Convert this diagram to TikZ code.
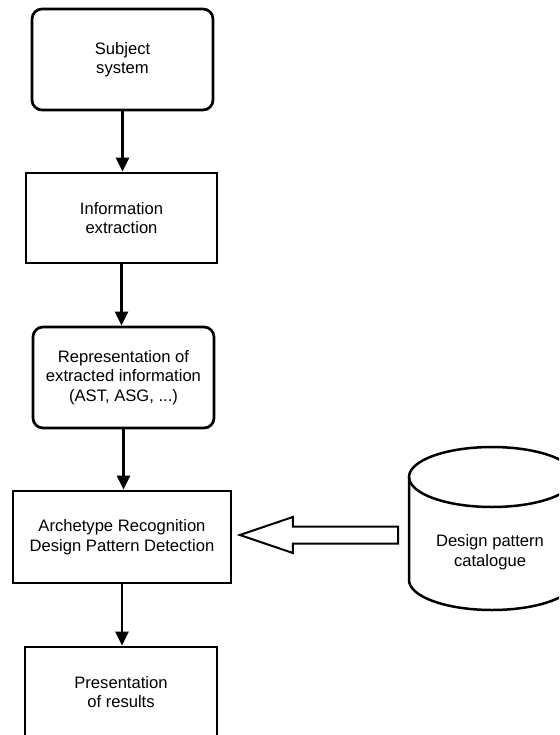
\documentclass[tikz,border=0pt]{standalone}
\usepackage{fontspec}
\setmainfont{Liberation Sans}
\usetikzlibrary{arrows.meta,calc}
\begin{document}
\begin{tikzpicture}[x=1pt,y=-1pt,
  label/.style={font=\fontsize{16.6}{19.5}\selectfont, align=center, inner sep=0pt},
  procbox/.style={label, draw, line width=2.7pt},
  roundbox/.style={procbox, rounded corners=10pt},
  flow/.style={line width=2.5pt, -{Triangle[length=14pt,width=13pt]}},
  hollow/.style={line width=2pt, line join=miter, fill=white}]
\useasboundingbox (0,0) rectangle (559,735);
\begin{scope}
\clip (0,0) rectangle (559,735);

% main processing chain
\node[roundbox, minimum width=181pt, minimum height=101pt] (subject) at (122.5,59.5) {Subject\\system};
\node[procbox, minimum width=191pt, minimum height=90pt] (extract) at (121.5,218) {Information\\extraction};
\node[roundbox, minimum width=181pt, minimum height=101pt] (repr) at (123.5,377.5) {Representation of\\extracted information\\(AST, ASG, ...)};
\node[procbox, minimum width=218pt, minimum height=92pt] (detect) at (122,537) {Archetype Recognition\\Design Pattern Detection};
\node[procbox, minimum width=192pt, minimum height=90pt] (present) at (121,692) {Presentation\\of results};

\draw[flow] (subject.south) -- (subject.south |- extract.north);
\draw[flow] (extract.south) -- (extract.south |- repr.north);
\draw[flow] (repr.south) -- (repr.south |- detect.north);
\draw[flow] (detect.south) -- (detect.south |- present.north);

% pattern catalogue as a database cylinder
\draw[line width=2.5pt] (492,477) ellipse[x radius=83, y radius=30];
\draw[line width=2.5pt] (409,477) -- (409,580) arc[start angle=180, end angle=0, x radius=83, y radius=30] -- (575,477);
\node[label] (catalogue) at (490,552) {Design pattern\\catalogue};
\coordinate (catwest) at (409,535);

% hollow block arrow feeding the catalogue into detection
\coordinate (tip) at ($(detect.east |- catwest)+(7.5,0)$);
\coordinate (tail) at ($(catwest)+(-11,0)$);
\draw[hollow] (tip) -- ($(tip)+(53,-18)$) -- ($(tip)+(53,-8.5)$) -- ($(tail)+(0,-8.5)$)
  -- ($(tail)+(0,8.5)$) -- ($(tip)+(53,8.5)$) -- ($(tip)+(53,18)$) -- cycle;
\end{scope}
\end{tikzpicture}
\end{document}
